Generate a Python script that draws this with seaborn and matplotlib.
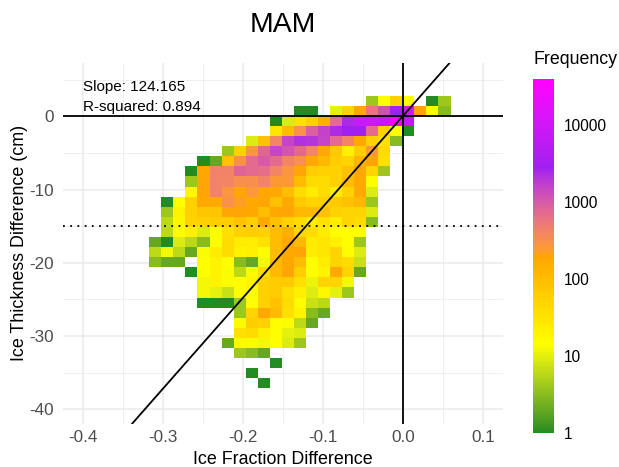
import numpy as np
import pandas as pd
import matplotlib
matplotlib.use("Agg")
import matplotlib.pyplot as plt
from matplotlib.colors import LogNorm, ListedColormap
from matplotlib.ticker import NullLocator
import seaborn as sns

# ---------------- data ----------------
title = "MAM"
x_label = "Ice Fraction Difference"
y_label = "Ice Thickness Difference (cm)"
legend_title = "Frequency"
slope = 124.165
intercept = 0.1
r_squared = 0.894
thickness_threshold = -15

x_ticks = [-0.4, -0.3, -0.2, -0.1, 0.0, 0.1]
x_tick_labels = ["-0.4", "-0.3", "-0.2", "-0.1", "0.0", "0.1"]
y_ticks = [-40, -30, -20, -10, 0]
y_tick_labels = ["-40", "-30", "-20", "-10", "0"]
cbar_ticks = [1, 10, 100, 1000, 10000]
cbar_tick_labels = ["1", "10", "100", "1000", "10000"]

# bin edges (25 columns of ice-fraction bins, 29 rows of thickness bins)
x_edges = np.linspace(-0.3175, 0.0590, 26)
y_edges = np.linspace(-37.16, 2.80, 30)

# counts per bin, top row (highest thickness) first, left column first
frequency_top_to_bottom = [
    [0, 0, 0, 0, 0,  0, 0, 0, 0, 0,  0, 0, 0, 0, 0,  0, 0, 0, 4, 14,  56, 16, 0, 1, 4],
    [0, 0, 0, 0, 0,  0, 0, 0, 0, 0,  0, 0, 1, 1, 0,  10, 50, 200, 600, 1200,  2800, 12000, 200, 16, 3],
    [0, 0, 0, 0, 0,  0, 0, 0, 0, 0,  1, 9, 35, 56, 150,  700, 2400, 8000, 8000, 7000,  39000, 7000, 0, 0, 0],
    [0, 0, 0, 0, 0,  0, 0, 0, 0, 0,  30, 100, 300, 900, 1600,  2300, 2800, 2800, 700, 56,  14, 1, 0, 0, 0],
    [0, 0, 0, 0, 0,  0, 0, 0, 9, 90,  400, 1500, 2200, 2000, 1500,  700, 400, 180, 56, 35,  3, 0, 0, 0, 0],
    [0, 0, 0, 0, 0,  0, 4, 56, 280, 800,  1500, 1100, 750, 400, 180,  70, 22, 60, 260, 40,  0, 0, 0, 0, 0],
    [0, 0, 0, 0, 1,  2, 90, 320, 700, 1000,  700, 400, 300, 180, 110,  60, 50, 130, 200, 35,  0, 0, 0, 0, 0],
    [0, 0, 0, 1, 180,  420, 420, 800, 700, 650,  400, 280, 200, 60, 55,  55, 90, 180, 50, 4,  0, 0, 0, 0, 0],
    [0, 0, 0, 4, 200,  420, 400, 320, 320, 420,  250, 250, 100, 40, 40,  55, 100, 180, 14, 0,  0, 0, 0, 0, 0],
    [0, 0, 0, 18, 200,  420, 270, 190, 260, 190,  180, 95, 40, 25, 40,  25, 55, 170, 9, 0,  0, 0, 0, 0, 0],
    [0, 1, 15, 55, 180,  180, 300, 220, 180, 200,  90, 180, 65, 50, 55,  65, 90, 120, 4, 0,  0, 0, 0, 0, 0],
    [0, 4, 20, 55, 75,  75, 200, 200, 180, 95,  180, 200, 110, 110, 90,  55, 50, 50, 9, 0,  0, 0, 0, 0, 0],
    [0, 6, 18, 55, 55,  60, 60, 90, 60, 180,  90, 55, 40, 25, 35,  25, 50, 40, 3, 0,  0, 0, 0, 0, 0],
    [0, 6, 13, 22, 9,  13, 35, 55, 60, 55,  100, 150, 45, 40, 25,  14, 14, 14, 0, 0,  0, 0, 0, 0, 0],
    [2, 1, 9, 6, 3,  14, 40, 25, 25, 35,  100, 180, 110, 25, 30,  22, 14, 4, 0, 0,  0, 0, 0, 0, 0],
    [6, 12, 6, 2, 13,  25, 40, 20, 22, 16,  100, 180, 200, 25, 30,  50, 15, 9, 0, 0,  0, 0, 0, 0, 0],
    [3, 2, 2, 0, 14,  20, 15, 3, 2, 12,  110, 190, 100, 14, 25,  50, 40, 7, 0, 0,  0, 0, 0, 0, 0],
    [0, 0, 0, 1, 14,  20, 13, 6, 17, 40,  110, 200, 60, 14, 20,  180, 50, 2, 0, 0,  0, 0, 0, 0, 0],
    [0, 0, 0, 0, 12,  20, 13, 15, 20, 55,  65, 65, 35, 11, 50,  50, 12, 0, 0, 0,  0, 0, 0, 0, 0],
    [0, 0, 0, 0, 12,  10, 7, 15, 13, 55,  65, 35, 22, 9, 18,  10, 4, 0, 0, 0,  0, 0, 0, 0, 0],
    [0, 0, 0, 0, 1,  1, 1, 4, 15, 55,  90, 40, 16, 7, 6,  0, 0, 0, 0, 0,  0, 0, 0, 0, 0],
    [0, 0, 0, 0, 0,  0, 0, 4, 50, 180,  100, 35, 20, 3, 2,  0, 0, 0, 0, 0,  0, 0, 0, 0, 0],
    [0, 0, 0, 0, 0,  0, 0, 17, 60, 55,  14, 13, 6, 2, 0,  0, 0, 0, 0, 0,  0, 0, 0, 0, 0],
    [0, 0, 0, 0, 0,  0, 0, 35, 40, 22,  14, 10, 9, 0, 0,  0, 0, 0, 0, 0,  0, 0, 0, 0, 0],
    [0, 0, 0, 0, 0,  0, 2, 17, 13, 12,  14, 9, 4, 0, 0,  0, 0, 0, 0, 0,  0, 0, 0, 0, 0],
    [0, 0, 0, 0, 0,  0, 0, 4, 3, 2,  0, 0, 0, 0, 0,  0, 0, 0, 0, 0,  0, 0, 0, 0, 0],
    [0, 0, 0, 0, 0,  0, 0, 0, 0, 0,  1, 0, 0, 0, 0,  0, 0, 0, 0, 0,  0, 0, 0, 0, 0],
    [0, 0, 0, 0, 0,  0, 0, 0, 1, 0,  0, 0, 0, 0, 0,  0, 0, 0, 0, 0,  0, 0, 0, 0, 0],
    [0, 0, 0, 0, 0,  0, 0, 0, 0, 1,  0, 0, 0, 0, 0,  0, 0, 0, 0, 0,  0, 0, 0, 0, 0],
]

gradient_colours = ["#228B22", "#FFFF00", "#FFA500", "#A020F0", "#FF00FF"]

# ---------------- colour ramp (CIELAB interpolation like ggplot) ----------------
_M = np.array([[0.4124564, 0.3575761, 0.1804375],
               [0.2126729, 0.7151522, 0.0721750],
               [0.0193339, 0.1191920, 0.9503041]])
_Minv = np.linalg.inv(_M)
_white = np.array([0.95047, 1.0, 1.08883])


def hex_to_lab(h):
    rgb = np.array([int(h[i:i + 2], 16) for i in (1, 3, 5)]) / 255.0
    lin = np.where(rgb <= 0.04045, rgb / 12.92, ((rgb + 0.055) / 1.055) ** 2.4)
    xyz = _M @ lin / _white
    f = np.where(xyz > 0.008856, np.cbrt(xyz), 7.787 * xyz + 16 / 116)
    return np.array([116 * f[1] - 16, 500 * (f[0] - f[1]), 200 * (f[1] - f[2])])


def lab_to_rgb(lab):
    L, a, b = lab
    fy = (L + 16) / 116
    fx = fy + a / 500
    fz = fy - b / 200
    f = np.array([fx, fy, fz])
    xyz = np.where(f ** 3 > 0.008856, f ** 3, (f - 16 / 116) / 7.787) * _white
    lin = np.clip(_Minv @ xyz, 0, 1)
    rgb = np.where(lin <= 0.0031308, 12.92 * lin, 1.055 * lin ** (1 / 2.4) - 0.055)
    return np.clip(rgb, 0, 1)


labs = [hex_to_lab(c) for c in gradient_colours]
pos = np.linspace(0, 1, len(labs))
ramp = []
for t in np.linspace(0, 1, 512):
    i = min(np.searchsorted(pos, t, side="right") - 1, len(labs) - 2)
    w = (t - pos[i]) / (pos[i + 1] - pos[i])
    ramp.append(lab_to_rgb((1 - w) * labs[i] + w * labs[i + 1]))
cmap = ListedColormap(np.array(ramp))

# ---------------- long table ----------------
freq = np.array(frequency_top_to_bottom, dtype=float)[::-1]
xc = (x_edges[:-1] + x_edges[1:]) / 2
yc = (y_edges[:-1] + y_edges[1:]) / 2
XX, YY = np.meshgrid(xc, yc)
mask = freq > 0
df = pd.DataFrame({
    "ice_fraction_diff": XX[mask],
    "ice_thickness_diff": YY[mask],
    "count": freq[mask],
})

# ---------------- plot ----------------
sns.set_theme(style="white")
plt.rcParams["font.family"] = ["Liberation Sans", "DejaVu Sans"]
plt.rcParams["axes.unicode_minus"] = False
plt.rcParams["text.color"] = "black"

W, H = 619, 467
fig = plt.figure(figsize=(W / 100, H / 100), dpi=100)
fig.patch.set_facecolor("white")
ax = fig.add_axes([63.3 / W, 1 - 424 / H, 440 / W, (424 - 62.7) / H])

sns.histplot(data=df, x="ice_fraction_diff", y="ice_thickness_diff",
             weights="count", bins=(x_edges, y_edges), cmap=cmap, ax=ax)
mesh = ax.collections[0]
mesh.set_norm(LogNorm(vmin=df["count"].min(), vmax=df["count"].max()))
mesh.set_zorder(1)

ax.set_xlim(-0.425, 0.125)
ax.set_ylim(-42.03, 7.32)
ax.set_xticks(x_ticks)
ax.set_xticklabels(x_tick_labels)
ax.set_yticks(y_ticks)
ax.set_yticklabels(y_tick_labels)
ax.set_xticks([-0.35, -0.25, -0.15, -0.05, 0.05], minor=True)
ax.set_yticks([-35, -25, -15, -5, 5], minor=True)
ax.set_axisbelow(True)
ax.grid(which="major", color="#EBEBEB", linewidth=1.1)
ax.grid(which="minor", color="#EBEBEB", linewidth=0.55)
ax.tick_params(which="both", length=0, labelsize=12.3, labelcolor="#4D4D4D")
ax.tick_params(axis="x", pad=4.5)
ax.tick_params(axis="y", pad=6.5)
for s in ax.spines.values():
    s.set_visible(False)
ax.set_xlabel("")
ax.set_ylabel("")

# reference lines
lw = 1.3
ax.axhline(0, color="black", lw=lw, zorder=3)
ax.axvline(0, color="black", lw=lw, zorder=3)
ax.axline((0, intercept), slope=slope, color="black", lw=lw, zorder=3)
ax.axhline(thickness_threshold, color="black", lw=lw, linestyle=(0, (1.0, 3.0)), zorder=3)

ax.text(-0.4, 3.39, f"Slope: {slope:.3f}", fontsize=11, color="black",
        ha="left", va="baseline", zorder=4)
ax.text(-0.4, 0.79, f"R-squared: {r_squared:.3f}", fontsize=11, color="black",
        ha="left", va="baseline", zorder=4)

# titles
fig.text(283.3 / W, 1 - 32 / H, title, fontsize=20.4, ha="center", va="baseline",
         color="black")
fig.text(283.3 / W, 1 - 464 / H, x_label, fontsize=12.9, ha="center", va="baseline",
         color="black")
fig.text(19.2 / W, 1 - 243.4 / H, y_label, fontsize=12.9, ha="center", va="center",
         rotation=90, color="black")

# colour bar
cax = fig.add_axes([533.3 / W, 1 - 433 / H, 20.7 / W, (433 - 79.3) / H])
cbar = fig.colorbar(mesh, cax=cax)
cbar.outline.set_visible(False)
cbar.set_ticks(cbar_ticks)
cbar.set_ticklabels(cbar_tick_labels)
cax.yaxis.set_minor_locator(NullLocator())
cax.tick_params(axis="y", which="major", direction="in", color="white", length=4,
                width=0.8, left=True, right=True, labelsize=11.2, pad=7,
                labelcolor="black")
fig.text(533.3 / W, 1 - 63.5 / H, legend_title, fontsize=12.8, ha="left", va="baseline",
         color="black")

fig.savefig("out.png", dpi=100, facecolor="white")
